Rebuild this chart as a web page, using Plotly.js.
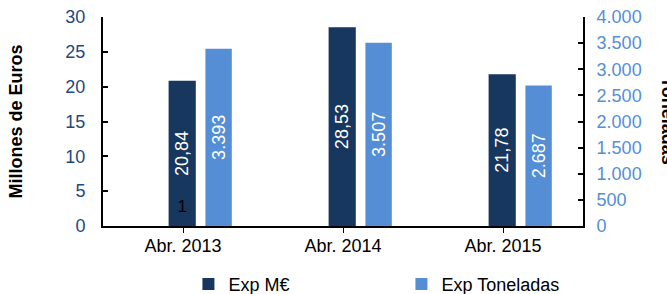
<!DOCTYPE html>
<html>
<head>
<meta charset="utf-8">
<script src="https://cdn.plot.ly/plotly-3.0.1.min.js"></script>
<style>html,body{margin:0;padding:0;background:#fff;}#chart{width:667px;height:294px;}</style>
</head>
<body>
<div id="chart"></div>
<script>
const categories = ['Abr. 2013', 'Abr. 2014', 'Abr. 2015'];
const expMillones = [20.84, 28.53, 21.78];
const expToneladas = [3393, 3507, 2687];
const extraLabelValues = [1, null, null];
const extraLabelText = ['1', '', ''];

const FONT = 'Liberation Sans, Arial, sans-serif';
const DARK = '#17375E';
const LIGHT = '#558ED5';

const traces = [
  {
    type: 'bar', name: 'Exp M€', x: categories, y: expMillones,
    marker: {color: DARK},
    offset: -0.09, width: 0.17,
    texttemplate: '%{y:.2f}', textposition: 'inside', insidetextanchor: 'middle',
    textangle: -90, textfont: {color: '#ffffff', size: 18, family: FONT},
    hoverinfo: 'skip'
  },
  {
    type: 'bar', name: 'Exp Toneladas', x: categories, y: expToneladas,
    yaxis: 'y2',
    marker: {color: LIGHT},
    offset: 0.14, width: 0.165,
    texttemplate: '%{y:,}', textposition: 'inside', insidetextanchor: 'middle',
    textangle: -90, textfont: {color: '#ffffff', size: 18, family: FONT},
    hoverinfo: 'skip'
  },
  {
    type: 'bar', name: 'extra', x: categories, y: extraLabelValues,
    marker: {color: 'rgba(0,0,0,0)'},
    offset: -0.09, width: 0.17,
    text: extraLabelText, textposition: 'outside', textangle: 0, cliponaxis: false,
    textfont: {color: '#000000', size: 17, family: FONT},
    showlegend: false, hoverinfo: 'skip'
  }
];

const layout = {
  width: 667, height: 294,
  margin: {l: 103, r: 84, t: 17, b: 68, autoexpand: false},
  paper_bgcolor: '#ffffff', plot_bgcolor: '#ffffff',
  separators: ',.',
  font: {family: FONT, size: 18, color: '#000'},
  barmode: 'overlay',
  showlegend: true,
  legend: {orientation: 'h', x: 0.178, xanchor: 'left', y: -0.19, yanchor: 'top',
           font: {size: 18, family: FONT, color: '#000'}, traceorder: 'normal',
           itemwidth: 30, entrywidth: 168, entrywidthmode: 'pixels', tracegroupgap: 0},
  xaxis: {
    type: 'category', range: [-0.5, 2.5],
    showline: true, linecolor: '#000', linewidth: 2,
    ticks: 'outside', ticklen: 5, tickcolor: '#000', tickwidth: 1,
    ticklabelstandoff: -3,
    tickfont: {size: 18, color: '#000', family: FONT},
    showgrid: false, zeroline: false, fixedrange: true
  },
  yaxis: {
    range: [0, 30], dtick: 5, tick0: 0,
    showline: true, linecolor: '#000', linewidth: 2,
    ticks: 'inside', ticklen: 5, tickcolor: '#000', tickwidth: 2,
    ticklabelstandoff: 12,
    tickfont: {size: 18, color: '#1F497D', family: FONT},
    showgrid: false, zeroline: false,
    title: {text: 'Millones de Euros', font: {size: 18, color: '#000', family: FONT, weight: 'bold'}, standoff: 38}
  },
  yaxis2: {
    overlaying: 'y', side: 'right', range: [0, 4000], dtick: 500, tick0: 0,
    tickformat: ',d',
    showline: true, linecolor: '#000', linewidth: 2,
    ticks: 'inside', ticklen: 5, tickcolor: '#000', tickwidth: 2,
    ticklabelstandoff: 8,
    tickfont: {size: 18, color: LIGHT, family: FONT},
    showgrid: false, zeroline: false
  },
  annotations: [
    {text: '<b>Toneladas</b>', xref: 'paper', yref: 'paper', x: 1.178, y: 0.5,
     xanchor: 'center', yanchor: 'middle', textangle: 90, showarrow: false,
     font: {size: 18, color: '#000', family: FONT}}
  ]
};

Plotly.newPlot('chart', traces, layout, {displayModeBar: false, staticPlot: true});
</script>
</body>
</html>
